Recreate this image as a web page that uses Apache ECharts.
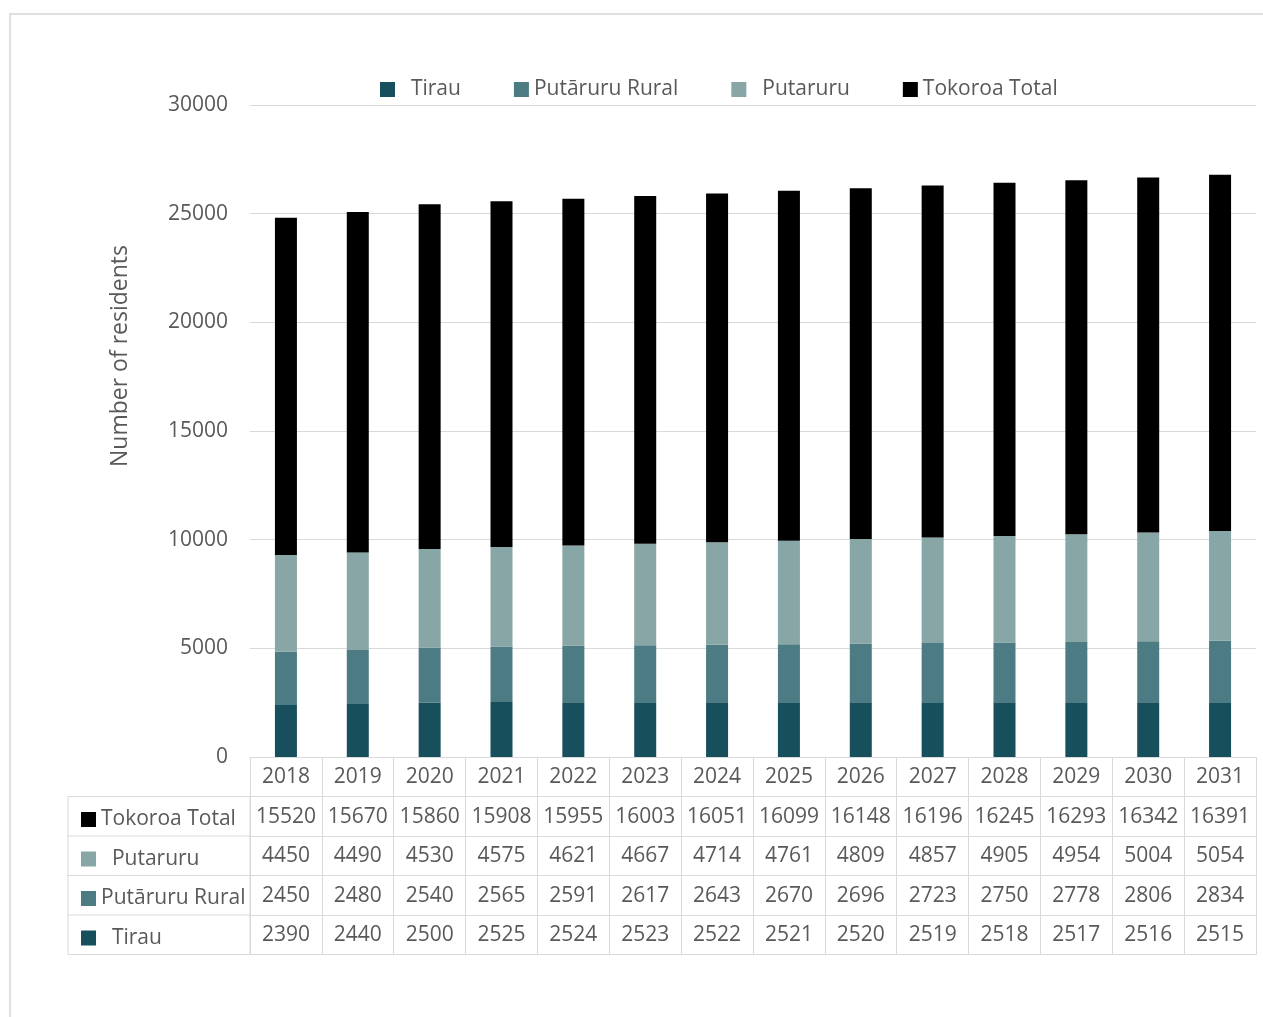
<!DOCTYPE html>
<html>
<head>
<meta charset="utf-8">
<script src="https://cdn.jsdelivr.net/npm/echarts@6/dist/echarts.min.js"></script>
<style>
html, body { margin: 0; padding: 0; background: #fff; }
#main { width: 1263px; height: 1017px; }
</style>
</head>
<body>
<div id="main"></div>
<script>
var years = ['2018', '2019', '2020', '2021', '2022', '2023', '2024', '2025', '2026', '2027', '2028', '2029', '2030', '2031'];
var tirau = [2390, 2440, 2500, 2525, 2524, 2523, 2522, 2521, 2520, 2519, 2518, 2517, 2516, 2515];
var putaruruRural = [2450, 2480, 2540, 2565, 2591, 2617, 2643, 2670, 2696, 2723, 2750, 2778, 2806, 2834];
var putaruru = [4450, 4490, 4530, 4575, 4621, 4667, 4714, 4761, 4809, 4857, 4905, 4954, 5004, 5054];
var tokoroaTotal = [15520, 15670, 15860, 15908, 15955, 16003, 16051, 16099, 16148, 16196, 16245, 16293, 16342, 16391];
var yTicks = [0, 5000, 10000, 15000, 20000, 25000, 30000];

var myChart = echarts.init(document.getElementById('main'));

var grey = '#595959';
var lineCol = '#d9d9d9';
var font = '"Open Sans", sans-serif';
var fs = 21;
var rowH = 39.5;
var gridLeft = 250, gridBottom = 757;

// table rows under the chart, top to bottom
var tableRows = [tokoroaTotal, putaruru, putaruruRural, tirau];
var pad = { 'Tirau': '  ', 'Putaruru': '  ', 'Putāruru Rural': '', 'Tokoroa Total': '' };

var xAxes = [{
    type: 'category',
    data: years,
    gridIndex: 0,
    position: 'bottom',
    axisLine: { lineStyle: { color: lineCol } },
    axisTick: { show: true, interval: 0, length: rowH, lineStyle: { color: lineCol } },
    axisLabel: { interval: 0, margin: 10, fontSize: fs, color: grey, fontFamily: font }
}];
tableRows.forEach(function (row, k) {
    xAxes.push({
        type: 'category',
        data: years,
        position: 'bottom',
        offset: rowH * (k + 1),
        axisLine: { lineStyle: { color: lineCol } },
        axisTick: { show: true, interval: 0, length: rowH, lineStyle: { color: lineCol } },
        axisLabel: {
            interval: 0, margin: 10, fontSize: fs, color: grey, fontFamily: font,
            formatter: function (v, i) { return String(row[i]); }
        },
        splitLine: { show: false }
    });
});
xAxes.push({
    type: 'category',
    data: years,
    position: 'bottom',
    offset: rowH * 5,
    axisLine: { lineStyle: { color: lineCol } },
    axisTick: { show: false },
    axisLabel: { show: false }
});

function bar(name, data, color) {
    return {
        name: name,
        type: 'bar',
        stack: 'total',
        barWidth: 22,
        data: data,
        itemStyle: { color: color },
        emphasis: { disabled: true }
    };
}

var option = {
    animation: false,
    backgroundColor: '#fff',
    grid: { left: gridLeft, right: 7, top: 105, bottom: 1017 - gridBottom },
    legend: [{
        data: ['Tirau', 'Putāruru Rural', 'Putaruru', 'Tokoroa Total'],
        left: 375,
        top: 74,
        icon: 'rect',
        itemWidth: 15,
        itemHeight: 15,
        itemGap: 53,
        textStyle: { fontSize: fs, color: grey, fontFamily: font },
        formatter: function (n) { return pad[n] + n; }
    }, {
        data: ['Tokoroa Total', 'Putaruru', 'Putāruru Rural', 'Tirau'],
        orient: 'vertical',
        left: 76,
        top: gridBottom + rowH + 6,
        icon: 'rect',
        itemWidth: 15,
        itemHeight: 15,
        itemGap: rowH - 24,
        textStyle: { fontSize: fs, lineHeight: 24, color: grey, fontFamily: font },
        formatter: function (n) { return pad[n] + n; }
    }],
    xAxis: xAxes,
    yAxis: {
        type: 'value',
        min: yTicks[0],
        max: yTicks[yTicks.length - 1],
        interval: yTicks[1] - yTicks[0],
        axisLine: { show: false },
        axisTick: { show: false },
        axisLabel: { margin: 22, fontSize: fs, color: grey, fontFamily: font, formatter: function (v) { return String(v); } },
        splitLine: { lineStyle: { color: lineCol } },
        name: 'Number of residents',
        nameLocation: 'middle',
        nameGap: 118,
        nameTextStyle: { fontSize: 23, color: grey, fontFamily: font, padding: [0, 0, 0, 150] }
    },
    graphic: [
        { type: 'rect', shape: { x: 10, y: 14, width: 1300, height: 1100 }, style: { fill: null, stroke: '#e0e0e0', lineWidth: 2 }, silent: true },
        { type: 'rect', shape: { x: 68, y: gridBottom + rowH, width: gridLeft - 68, height: rowH * 4 }, style: { fill: null, stroke: lineCol, lineWidth: 1 }, silent: true },
        { type: 'line', shape: { x1: 68, y1: gridBottom + rowH * 2, x2: gridLeft, y2: gridBottom + rowH * 2 }, style: { stroke: lineCol } },
        { type: 'line', shape: { x1: 68, y1: gridBottom + rowH * 3, x2: gridLeft, y2: gridBottom + rowH * 3 }, style: { stroke: lineCol } },
        { type: 'line', shape: { x1: 68, y1: gridBottom + rowH * 4, x2: gridLeft, y2: gridBottom + rowH * 4 }, style: { stroke: lineCol } }
    ],
    series: [
        bar('Tirau', tirau, '#174f5c'),
        bar('Putāruru Rural', putaruruRural, '#4c7b83'),
        bar('Putaruru', putaruru, '#87a6a5'),
        bar('Tokoroa Total', tokoroaTotal, '#000000')
    ]
};

myChart.setOption(option);
</script>
</body>
</html>
